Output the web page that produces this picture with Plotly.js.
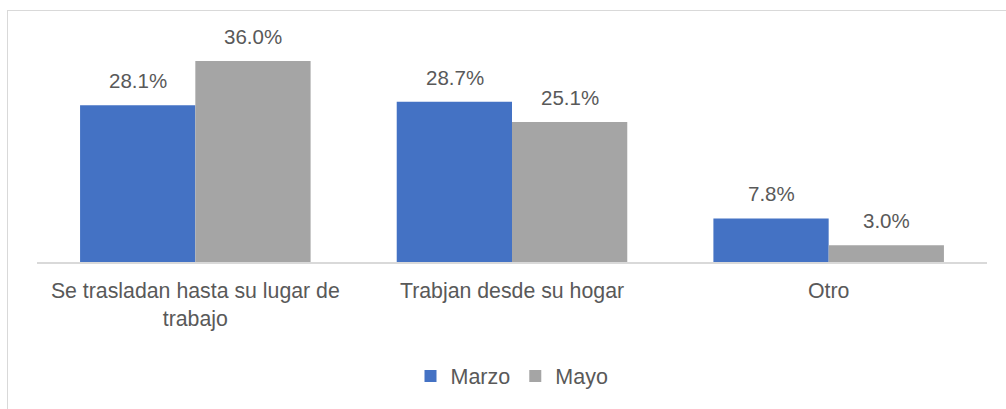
<!DOCTYPE html>
<html><head><meta charset="utf-8">
<script src="https://cdn.plot.ly/plotly-3.0.1.min.js"></script>
<style>
html,body{margin:0;padding:0;background:#fff;}
#frame{position:absolute;left:7px;top:10px;width:1010px;height:420px;border:1.5px solid #d9d9d9;box-sizing:border-box;}
#chart{position:absolute;left:0;top:0;width:1006px;height:409px;}
</style></head>
<body>
<div id="frame"></div>
<div id="chart"></div>
<script>
var categories = ["Se trasladan hasta su lugar de<br>trabajo", "Trabjan desde su hogar", "Otro"];
var marzo = [28.1, 28.7, 7.8];
var mayo = [36.0, 25.1, 3.0];
var seriesNames = ["Marzo", "Mayo"];

var font = "Liberation Sans, Arial, sans-serif";
var txt = "#595959";

var traces = [
  {type:"bar", name:seriesNames[0], x:categories, y:marzo, marker:{color:"#4472C4"}, hoverinfo:"none"},
  {type:"bar", name:seriesNames[1], x:categories, y:mayo, marker:{color:"#A5A5A5"}, hoverinfo:"none"}
];

var annotations = [];
[marzo, mayo].forEach(function(vals, si){
  vals.forEach(function(v, i){
    annotations.push({x:categories[i], y:v, xref:"x", yref:"y", text:v.toFixed(1)+"%",
      showarrow:false, xshift:(si===0?-57.5:57.5), yshift:11, yanchor:"bottom",
      font:{family:font, size:20.5, color:txt}});
  });
});

var layout = {
  width:1006, height:409,
  margin:{l:37, r:19, t:20, b:147},
  paper_bgcolor:"rgba(0,0,0,0)", plot_bgcolor:"rgba(0,0,0,0)",
  barmode:"group", bargap:0.272, bargroupgap:0,
  font:{family:font, size:20, color:txt},
  xaxis:{showline:true, linecolor:"#d9d9d9", linewidth:1.5, ticks:"", showgrid:false,
         tickfont:{family:font, size:21.3, color:txt}, ticklabelstandoff:9},
  yaxis:{range:[0,43.37], visible:false, showgrid:false, zeroline:false},
  showlegend:true,
  legend:{orientation:"h", x:0.5, xanchor:"center", y:-0.471, yanchor:"middle",
          font:{family:font, size:21.5, color:txt}, itemwidth:30, traceorder:"normal"},
  annotations:annotations
};
Plotly.newPlot("chart", traces, layout, {displayModeBar:false, staticPlot:true});
</script>
</body></html>
